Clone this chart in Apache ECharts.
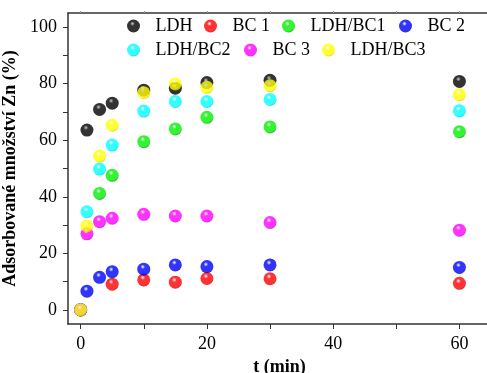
<!DOCTYPE html>
<html><head><meta charset="utf-8">
<script src="https://cdn.jsdelivr.net/npm/echarts@6/dist/echarts.min.js"></script>
<style>html,body{margin:0;padding:0;background:#fff}#c{width:487px;height:373px}</style>
</head><body><div id="c"></div>
<script>
const seriesNames = ['LDH','BC 1','LDH/BC1','BC 2','LDH/BC2','BC 3','LDH/BC3'];
const xLDH     = [0, 1, 3, 5, 10, 15, 20, 30, 60];
const yLDH     = [0, 63.6, 70.9, 73.1, 77.7, 78.4, 80.4, 81.2, 80.8];
const xBC1     = [0, 5, 10, 15, 20, 30, 60];
const yBC1     = [0, 9.1, 10.6, 9.8, 11.1, 11.0, 9.4];
const xLDHBC1  = [0, 3, 5, 10, 15, 20, 30, 60];
const yLDHBC1  = [0, 41.2, 47.6, 59.5, 64.0, 68.1, 64.7, 63.0];
const xBC2     = [0, 1, 3, 5, 10, 15, 20, 30, 60];
const yBC2     = [0, 6.6, 11.5, 13.5, 14.4, 15.9, 15.3, 15.9, 15.0];
const xLDHBC2  = [0, 1, 3, 5, 10, 15, 20, 30, 60];
const yLDHBC2  = [0, 34.7, 49.8, 58.3, 70.3, 73.7, 73.7, 74.4, 70.4];
const xBC3     = [0, 1, 3, 5, 10, 15, 20, 30, 60];
const yBC3     = [0, 26.9, 31.2, 32.4, 33.8, 33.2, 33.2, 30.9, 28.2];
const xLDHBC3  = [0, 1, 3, 5, 10, 15, 20, 30, 60];
const yLDHBC3  = [0, 29.7, 54.4, 65.3, 76.8, 79.9, 78.7, 79.3, 76.1];
const xTicks = [0, 20, 40, 60];
const yTicks = [0, 20, 40, 60, 80, 100];

const allX = [xLDH, xBC1, xLDHBC1, xBC2, xLDHBC2, xBC3, xLDHBC3];
const allY = [yLDH, yBC1, yLDHBC1, yBC2, yLDHBC2, yBC3, yLDHBC3];
const colors = [['#000000','#000000','#c0c0c0'],['#ff0000','#d00000','#ffffff'],['#00f000','#00b000','#ffffff'],['#0000ff','#0000c0','#ffffff'],['#00ffff','#00d8e0','#ffffff'],['#ff00ff','#d000d0','#ffffff'],['#ffff00','#e0d800','#ffffff']];
const legendPos = [[127,17],[204,17],[282,17],[399,17],[127,41],[244,41],[322,41]];

function sphere(c){
  return new echarts.graphic.RadialGradient(0.42, 0.32, 0.65, [
    {offset:0, color:c[2]},
    {offset:0.28, color:c[0]},
    {offset:0.85, color:c[0]},
    {offset:1, color:c[1]}
  ]);
}
const font = '"Liberation Serif","Times New Roman",serif';
const chart = echarts.init(document.getElementById('c'), null, {renderer:'canvas'});
const series = seriesNames.map((n,i)=>({
  name:n, type:'scatter', symbol:'circle', symbolSize:13,
  itemStyle:{color:sphere(colors[i])},
  data: allX[i].map((x,j)=>[x, allY[i][j]]),
  z: 2+i
}));
const legends = seriesNames.map((n,i)=>({
  data:[n], left:legendPos[i][0], top:legendPos[i][1],
  padding:0, itemWidth:34, itemHeight:13, itemGap:0, icon:'circle',
  textStyle:{fontFamily:font, fontSize:18, color:'#000'}
}));
chart.setOption({
  animation:false,
  grid:{left:68, top:13, right:-4, bottom:49, outerBoundsMode:'none', containLabel:false},
  legend: legends,
  xAxis:[{
    type:'value', min:-2, max:65, interval:10,
    name:'t (min)', nameLocation:'middle', nameGap:33,
    nameTextStyle:{fontFamily:font, fontSize:18, fontWeight:'bold', color:'#000'},
    axisLine:{onZero:false, lineStyle:{color:'#333', width:1.5}},
    axisTick:{show:true, length:5, lineStyle:{color:'#333'}, customValues:[0,10,20,30,40,50,60]},
    axisLabel:{fontFamily:font, fontSize:18, color:'#000', margin:11, customValues:xTicks},
    splitLine:{show:false}
  },{
    type:'value', position:'top', min:-2, max:65, interval:10,
    axisLine:{onZero:false, lineStyle:{color:'#333', width:1.5}},
    axisTick:{show:true, length:2, lineStyle:{color:'#999'}, customValues:[0,10,20,30,40,50,60]},
    axisLabel:{show:false}, splitLine:{show:false}
  }],
  yAxis:{
    type:'value', min:-5, max:105, interval:10,
    name:'Adsorbované množství Zn (%)', nameLocation:'middle', nameGap:30,
    nameTextStyle:{fontFamily:font, fontSize:18, fontWeight:'bold', color:'#000'},
    axisLine:{onZero:false, lineStyle:{color:'#333', width:1.5}},
    axisTick:{show:true, length:5, lineStyle:{color:'#333'}, customValues:[0,10,20,30,40,50,60,70,80,90,100]},
    axisLabel:{fontFamily:font, fontSize:18, color:'#000', margin:11, customValues:yTicks},
    splitLine:{show:false}
  },
  series: series
});
</script></body></html>
